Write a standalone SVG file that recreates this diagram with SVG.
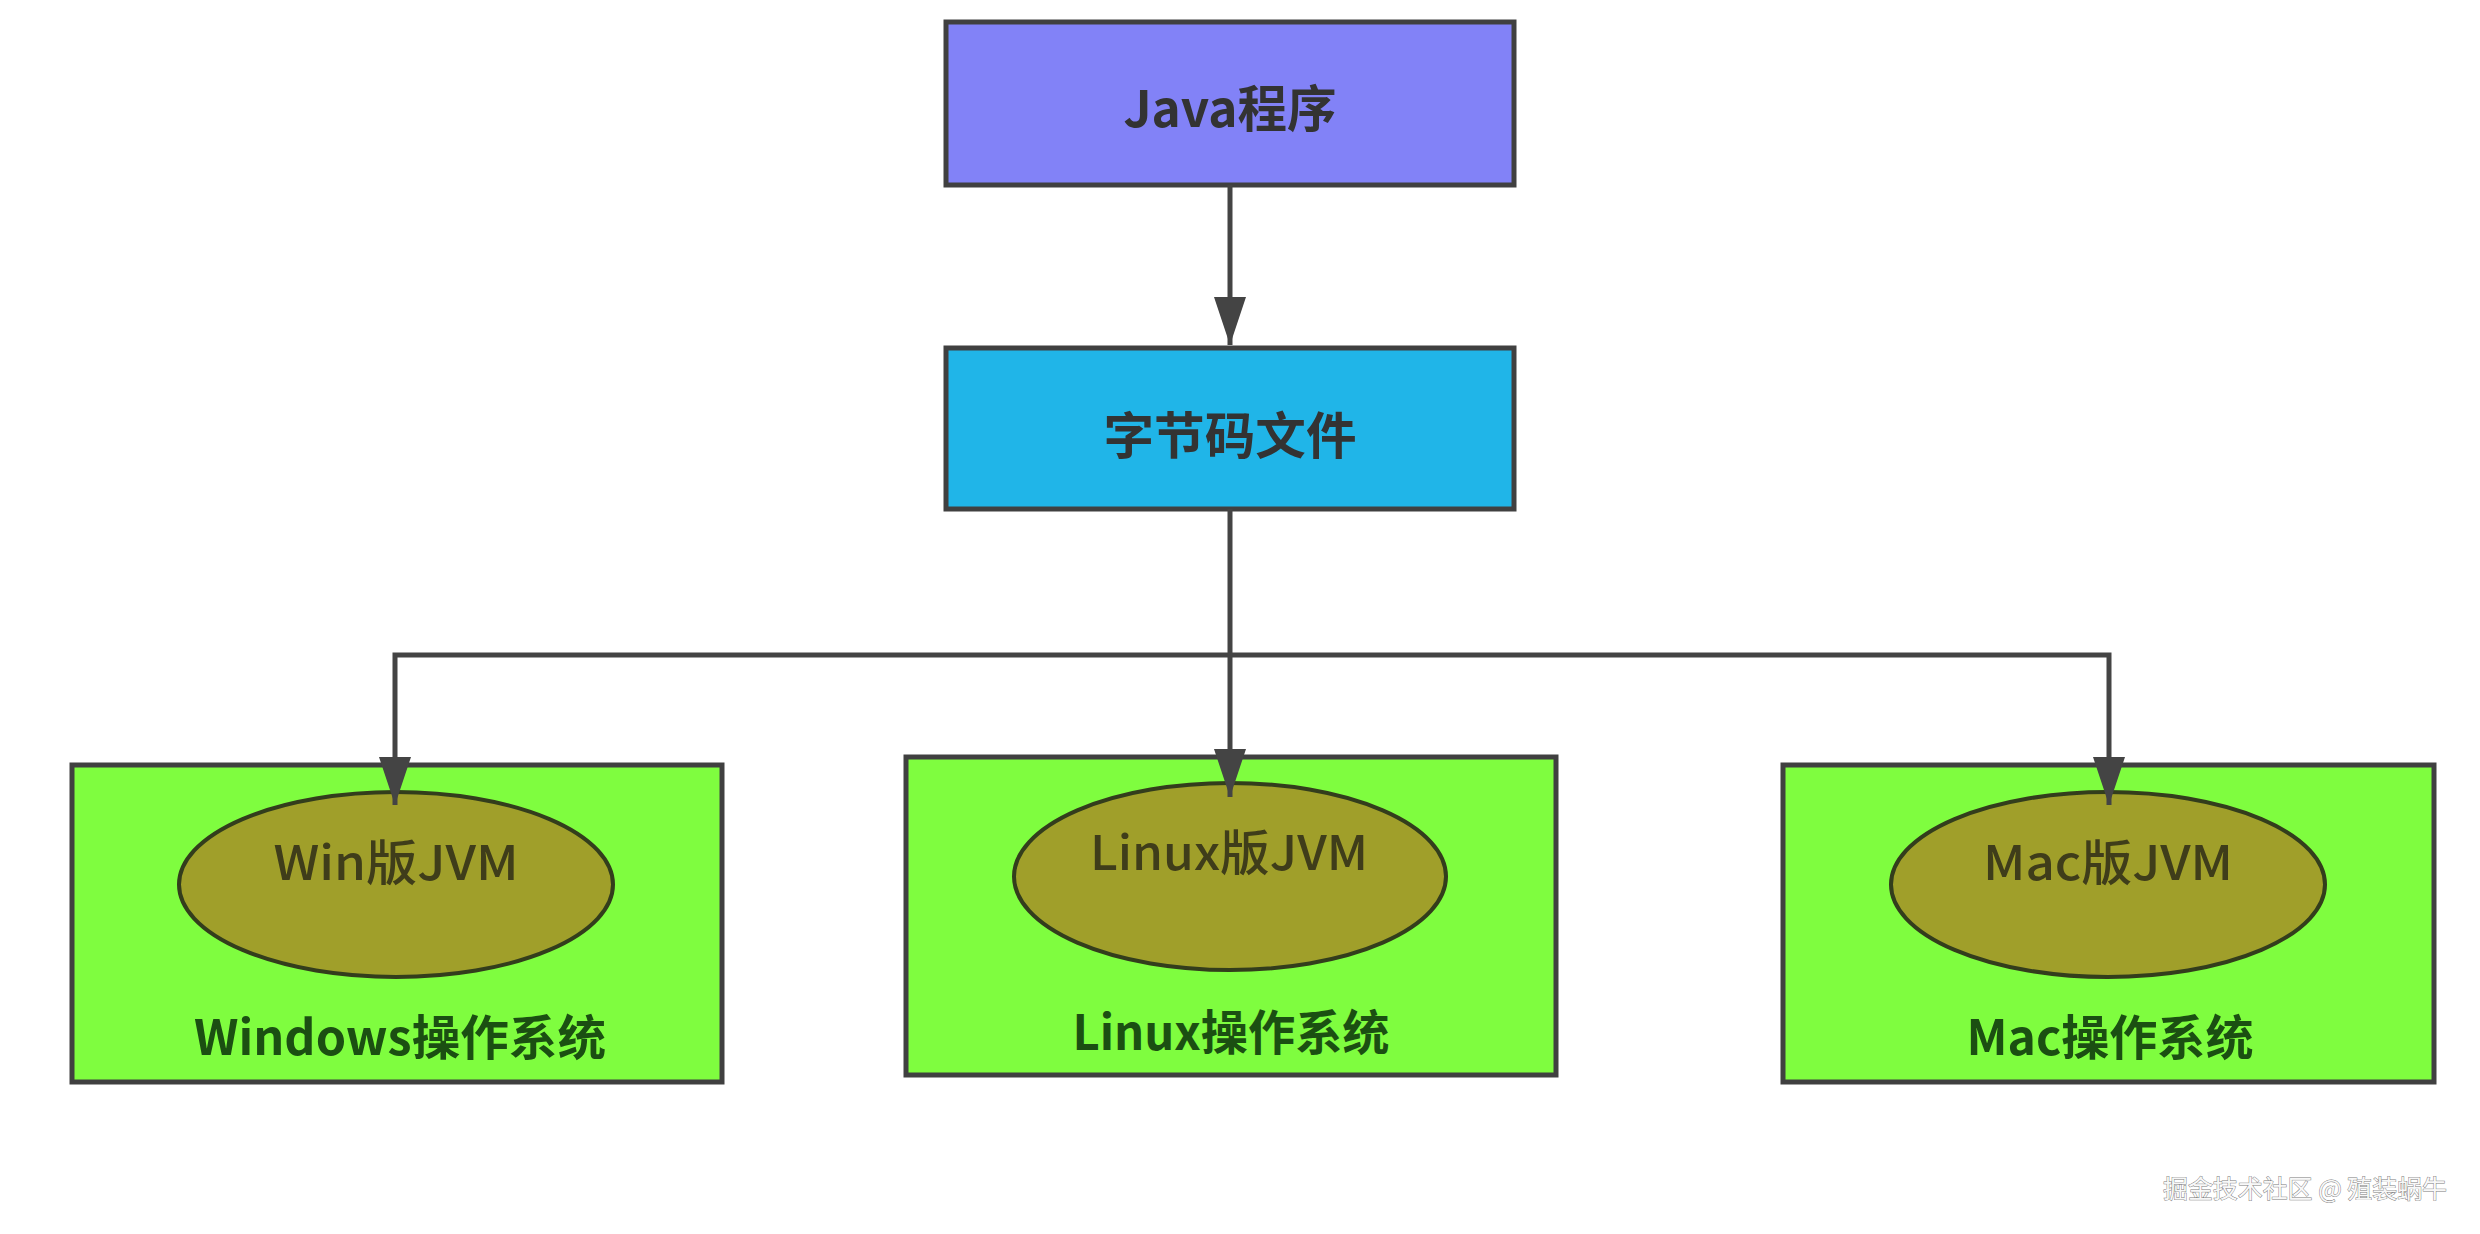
<svg xmlns="http://www.w3.org/2000/svg" width="2480" height="1234" viewBox="0 0 2480 1234">
<style>
.box{stroke:#404040;stroke-width:5}
.os{fill:#7ffd3f}
.jvm{fill:#a09f2a;stroke:#333d1c;stroke-width:4}
.t{font-family:"Noto Sans CJK SC","Noto Sans",sans-serif;text-anchor:middle}
.title{font-size:50px;font-weight:bold;fill:#333333}
.jl{font-size:48px;font-weight:500;fill:#3f3d1a}
.ol{font-size:48px;font-weight:bold;fill:#1b4f12}
.conn{fill:none;stroke:#444444;stroke-width:5}
.wm{font-family:"Noto Sans CJK SC",sans-serif;font-size:25px;fill:#f8f8f8;stroke:#7a7a7a;stroke-width:0.9;paint-order:stroke}
</style>
<defs>
<marker id="arr" markerUnits="userSpaceOnUse" markerWidth="48" markerHeight="32" refX="48" refY="16" orient="auto">
<path d="M0,0 L48,16 L0,32 z" fill="#444444"/>
</marker>
</defs>
<rect width="2480" height="1234" fill="#ffffff"/>
<g id="java">
<rect class="box" x="946" y="22" width="568" height="163" fill="#8282f7"/>
<text class="t title" x="1230" y="127" textLength="213" lengthAdjust="spacingAndGlyphs">Java程序</text>
</g>
<g id="bytecode">
<rect class="box" x="946" y="348" width="568" height="161" fill="#20b5e8"/>
<text class="t title" x="1230" y="454" textLength="253" lengthAdjust="spacingAndGlyphs">字节码文件</text>
</g>
<g id="windows">
<rect class="box os" x="72" y="765" width="650" height="317"/>
<ellipse class="jvm" cx="396" cy="884.5" rx="217" ry="92.5"/>
<text class="t jl" x="396" y="880" textLength="245" lengthAdjust="spacingAndGlyphs">Win版JVM</text>
<text class="t ol" x="400" y="1055" textLength="412" lengthAdjust="spacingAndGlyphs">Windows操作系统</text>
</g>
<g id="linux">
<rect class="box os" x="906" y="757" width="650" height="318"/>
<ellipse class="jvm" cx="1230" cy="876.5" rx="216" ry="93.5"/>
<text class="t jl" x="1229" y="870" textLength="278" lengthAdjust="spacingAndGlyphs">Linux版JVM</text>
<text class="t ol" x="1231" y="1050" textLength="317" lengthAdjust="spacingAndGlyphs">Linux操作系统</text>
</g>
<g id="mac">
<rect class="box os" x="1783" y="765" width="651" height="317"/>
<ellipse class="jvm" cx="2108" cy="884.5" rx="217" ry="92.5"/>
<text class="t jl" x="2108" y="880" textLength="250" lengthAdjust="spacingAndGlyphs">Mac版JVM</text>
<text class="t ol" x="2110" y="1055" textLength="287" lengthAdjust="spacingAndGlyphs">Mac操作系统</text>
</g>
<g id="connectors">
<path class="conn" d="M1230,185 V345" marker-end="url(#arr)"/>
<path class="conn" d="M1230,509 V797" marker-end="url(#arr)"/>
<path class="conn" d="M1230,655 H395 V805" marker-end="url(#arr)"/>
<path class="conn" d="M1230,655 H2109 V805" marker-end="url(#arr)"/>
</g>
<text class="wm" x="2163" y="1198" textLength="284" lengthAdjust="spacingAndGlyphs">掘金技术社区 @ 殖装蜗牛</text>
</svg>
